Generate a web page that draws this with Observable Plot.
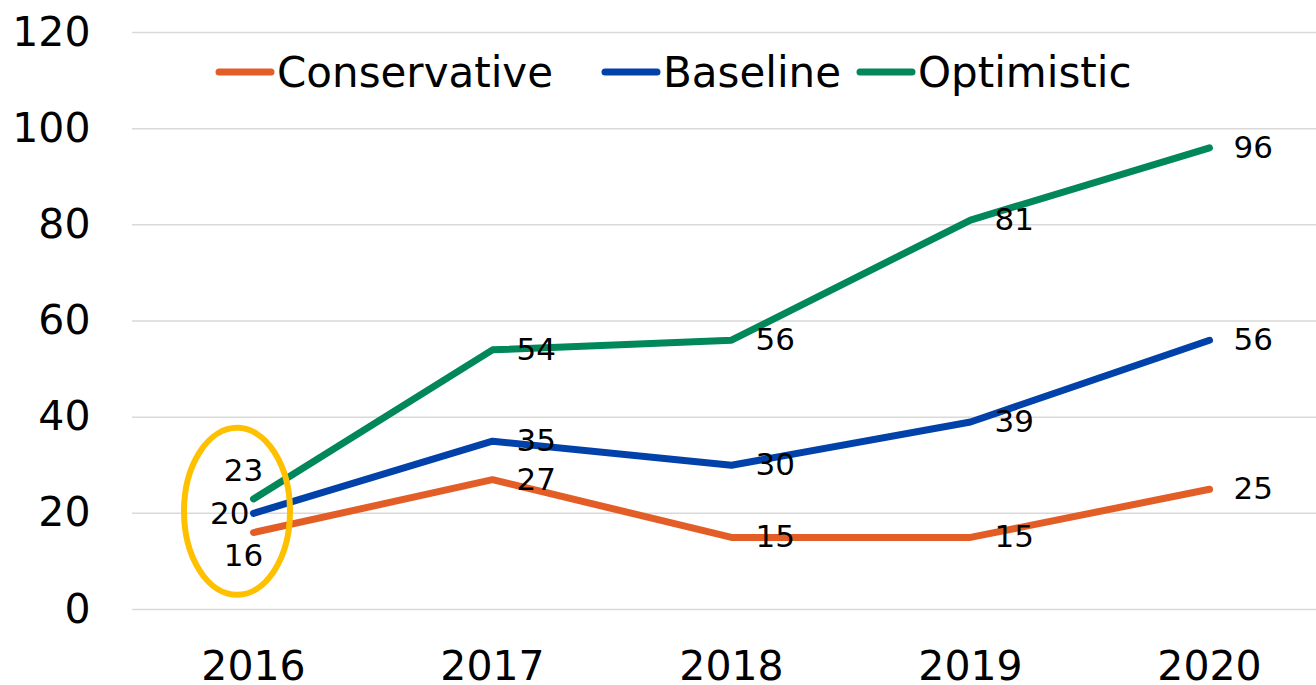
<!DOCTYPE html>
<html>
<head>
<meta charset="utf-8">
<script src="https://cdn.jsdelivr.net/npm/d3@7"></script>
<script src="https://cdn.jsdelivr.net/npm/@observablehq/plot@0.6"></script>
<style>
  html, body { margin: 0; padding: 0; background: #fff; }
  #wrap { position: relative; width: 1316px; height: 685px; font-family: "DejaVu Sans", Verdana, sans-serif; }
  #legend { position: absolute; left: 0; top: 47px; height: 50px; width: 1316px; font-size: 42px; color: #000; }
  .item { position: absolute; top: 0; display: flex; align-items: center; height: 50px; white-space: nowrap; }
  .item svg { margin-right: 2px; }
</style>
</head>
<body>
<div id="wrap"><div id="legend"></div></div>
<script>
const years = ["2016", "2017", "2018", "2019", "2020"];
const seriesNames = ["Conservative", "Baseline", "Optimistic"];
const conservative = [16, 27, 15, 15, 25];
const baseline = [20, 35, 30, 39, 56];
const optimistic = [23, 54, 56, 81, 96];
const yTicks = [0, 20, 40, 60, 80, 100, 120];

const colors = ["#E35E27", "#0042A9", "#00875A"];
const values = [conservative, baseline, optimistic];

const data = [];
seriesNames.forEach((s, i) => years.forEach((y, j) => data.push({series: s, year: y, value: values[i][j]})));

// label placement for the first year (styles only)
const firstOffsets = {Conservative: {dx: -10, dy: 24, anchor: "middle"}, Baseline: {dx: -4, dy: 1, anchor: "end"}, Optimistic: {dx: -10, dy: -28, anchor: "middle"}};
const rest = data.filter(d => d.year !== years[0]);
const first = data.filter(d => d.year === years[0]);

const font = "DejaVu Sans, Verdana, sans-serif";

const chart = Plot.plot({
  width: 1316,
  height: 685,
  marginLeft: 132,
  marginRight: 0,
  marginTop: 32,
  marginBottom: 76,
  style: {fontFamily: font, background: "#fff", overflow: "visible"},
  x: {type: "point", domain: years, range: [132, 1330], padding: 0.5},
  y: {domain: [0, 120], range: [609, 32]},
  color: {domain: seriesNames, range: colors},
  marks: [
    Plot.ruleY(yTicks, {stroke: "#D9D9D9", strokeWidth: 1.5}),
    Plot.axisY({ticks: yTicks, tickSize: 0, tickPadding: 42, fontSize: 41, fill: "#000", label: null}),
    Plot.axisX({tickSize: 0, tickPadding: 41, fontSize: 41, fill: "#000", label: null}),
    Plot.line(data, {x: "year", y: "value", z: "series", stroke: "series", strokeWidth: 7, strokeLinecap: "round", strokeLinejoin: "round"}),
    Plot.text(rest, {x: "year", y: "value", text: d => String(d.value), dx: 24, textAnchor: "start", fontSize: 31, fill: "#000"}),
    ...seriesNames.map(s => Plot.text(first.filter(d => d.series === s), {
      x: "year", y: "value", text: d => String(d.value),
      dx: firstOffsets[s].dx, dy: firstOffsets[s].dy, textAnchor: firstOffsets[s].anchor, fontSize: 31, fill: "#000"
    }))
  ]
});

// highlight ellipse around first year's labels
const sx = chart.scale("x"), sy = chart.scale("y");
const ns = "http://www.w3.org/2000/svg";
const ell = document.createElementNS(ns, "ellipse");
ell.setAttribute("cx", sx.apply(years[0]) - 16);
ell.setAttribute("cy", sy.apply(baseline[0]) - 1.5);
ell.setAttribute("rx", 53);
ell.setAttribute("ry", 83.5);
ell.setAttribute("fill", "none");
ell.setAttribute("stroke", "#FFC000");
ell.setAttribute("stroke-width", 6);
chart.appendChild(ell);

const wrap = document.getElementById("wrap");
wrap.insertBefore(chart, wrap.firstChild);

// legend
const legend = document.getElementById("legend");
const legendLeft = [215, 601, 856];
seriesNames.forEach((s, i) => {
  const it = document.createElement("div");
  it.className = "item";
  it.style.left = legendLeft[i] + "px";
  it.innerHTML = `<svg width="60" height="10"><line x1="4" y1="5" x2="56" y2="5" stroke="${colors[i]}" stroke-width="7" stroke-linecap="round"/></svg><span>${s}</span>`;
  legend.appendChild(it);
});
</script>
</body>
</html>
